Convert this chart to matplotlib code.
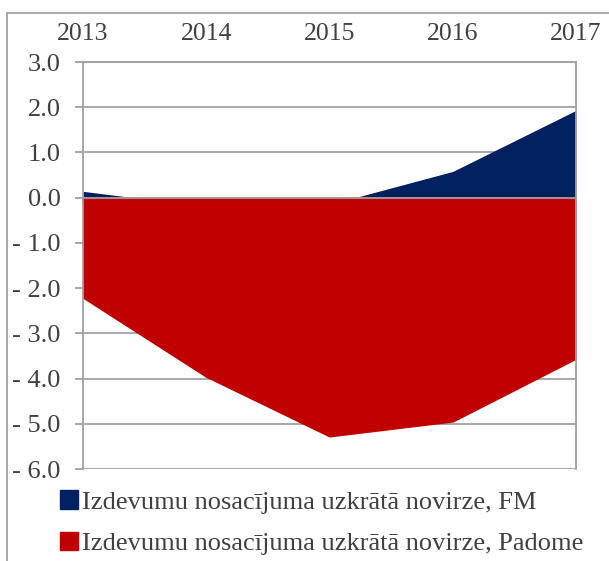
import matplotlib
matplotlib.use('Agg')
import matplotlib.pyplot as plt
from matplotlib.patches import Patch, Rectangle

gadi = ['2013', '2014', '2015', '2016', '2017']
novirze_fm = [0.14, -0.2, -0.15, 0.58, 1.93]
novirze_padome = [-2.2, -3.95, -5.27, -4.94, -3.55]
y_ticks = [3, 2, 1, 0, -1, -2, -3, -4, -5, -6]
nosaukumi = ['Izdevumu nosacījuma uzkrātā novirze, FM',
             'Izdevumu nosacījuma uzkrātā novirze, Padome']

zils = '#002060'
sarkans = '#C00000'
peleks = '#A0A0A0'
teksts = '#404040'

plt.rcParams['font.family'] = ['Liberation Serif', 'DejaVu Serif']

fig = plt.figure(figsize=(6.09, 5.61), dpi=100)
ax = fig.add_axes([83 / 609, 1 - 469 / 561, (576 - 83) / 609, (469 - 62) / 561])

x = list(range(len(gadi)))
ax.fill_between(x, 0, novirze_fm, color=zils, linewidth=0, zorder=1)
ax.fill_between(x, 0, novirze_padome, facecolor=sarkans, edgecolor=sarkans,
                linewidth=1.5, zorder=1.5)

ax.set_xlim(0, len(gadi) - 1)
ax.set_ylim(-6, 3)
ax.set_yticks(y_ticks)
ax.set_yticklabels([f'{v:.1f}' if v >= 0 else f'- {abs(v):.1f}' for v in y_ticks])
ax.set_xticks(x)
ax.set_xticklabels(gadi)

ax.set_axisbelow(True)
ax.yaxis.grid(True, color=peleks, linewidth=1.3)

for s in ['left', 'right', 'top', 'bottom']:
    ax.spines[s].set_color(peleks)
    ax.spines[s].set_linewidth(1.3)
ax.spines['bottom'].set_position(('data', 0))
ax.spines['bottom'].set_zorder(3)

ax.tick_params(axis='y', direction='out', length=5.5, width=1.3, color=peleks,
               labelcolor=teksts, labelsize=19, pad=10.5)
ax.tick_params(axis='x', direction='out', length=5, width=1.3, color=peleks,
               bottom=True, top=False, labelbottom=False, labeltop=True,
               labelcolor=teksts, labelsize=18.5, pad=7.5)

# ramis ap visu attēlu
fig.patches.append(Rectangle((7 / 609, -0.1), 1.1, 1.1 - 13 / 561, transform=fig.transFigure,
                             fill=False, edgecolor=peleks, linewidth=1.3))

rokturi = [Patch(facecolor=zils, edgecolor=zils), Patch(facecolor=sarkans, edgecolor=sarkans)]
fig.legend(rokturi, nosaukumi, loc='upper left', bbox_to_anchor=(42 / 609, 1 - 472 / 561),
           frameon=False, fontsize=19, labelcolor=teksts, handlelength=0.68,
           handleheight=0.72, handletextpad=0.12, labelspacing=0.66, borderpad=0.2)

fig.savefig('out.png', dpi=100)
